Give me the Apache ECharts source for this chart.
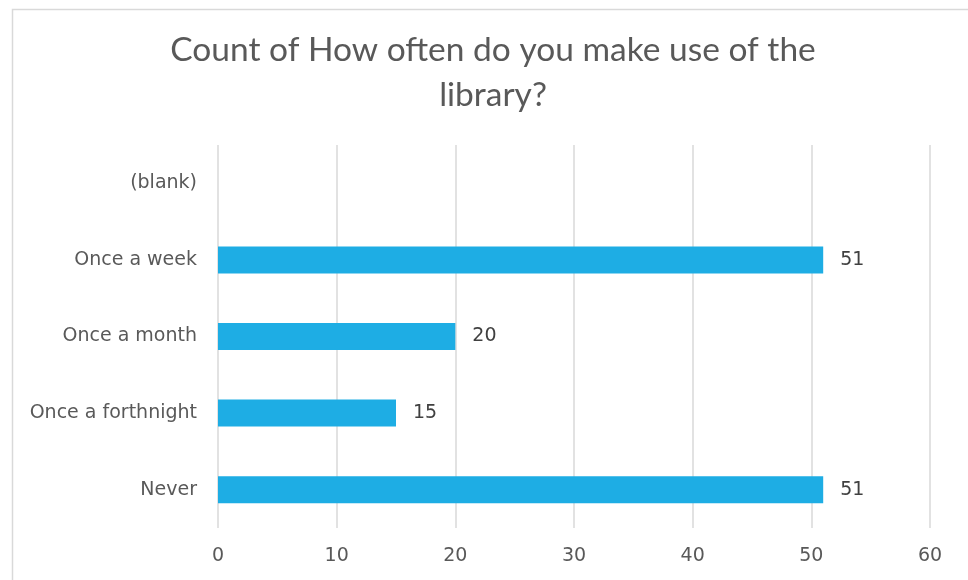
<!DOCTYPE html>
<html><head><meta charset="utf-8">
<script src="https://cdn.jsdelivr.net/npm/echarts@6/dist/echarts.min.js"></script>
<style>html,body{margin:0;padding:0;background:#fff}#c{width:968px;height:580px}</style>
</head><body><div id="c"></div>
<script>
const titleText = 'Count of How often do you make use of the\nlibrary?';
const categories = ['Never', 'Once a forthnight', 'Once a month', 'Once a week', '(blank)'];
const counts = [51, 15, 20, 51, null];
const xTicks = [0, 10, 20, 30, 40, 50, 60];

const TFONT = 'Lato';
const FONT = 'DejaVu Sans';
const chart = echarts.init(document.getElementById('c'));
chart.setOption({
  backgroundColor: '#fff',
  animation: false,
  graphic: [{
    type: 'rect', silent: true,
    shape: { x: 12.5, y: 9.5, width: 1000, height: 700 },
    style: { fill: 'none', stroke: '#d9d9d9', lineWidth: 1.5 }
  }],
  title: {
    text: titleText, top: 23, left: 488, textAlign: 'center',
    textStyle: { fontFamily: TFONT, fontSize: 33.5, fontWeight: 'normal', color: '#595959', lineHeight: 45 }
  },
  grid: { left: 218, right: 38, top: 145, bottom: 52, containLabel: false },
  xAxis: {
    type: 'value', min: 0, max: 60, interval: 10,
    axisLine: { show: false }, axisTick: { show: false },
    splitLine: { show: true, lineStyle: { color: '#d9d9d9', width: 1.5 } },
    axisLabel: { fontFamily: FONT, fontSize: 19, color: '#595959', margin: 19,
      formatter: v => xTicks.includes(v) ? String(v) : '' }
  },
  yAxis: {
    type: 'category', data: categories,
    axisLine: { show: false }, axisTick: { show: false },
    axisLabel: { fontFamily: FONT, fontSize: 19, color: '#595959', margin: 21, padding: [2, 0, 0, 0] }
  },
  series: [{
    type: 'bar', data: counts, barWidth: 27,
    itemStyle: { color: '#1eade4' },
    label: { show: true, position: 'right', distance: 17, fontFamily: FONT, fontSize: 19, color: '#404040' }
  }]
});
</script></body></html>
